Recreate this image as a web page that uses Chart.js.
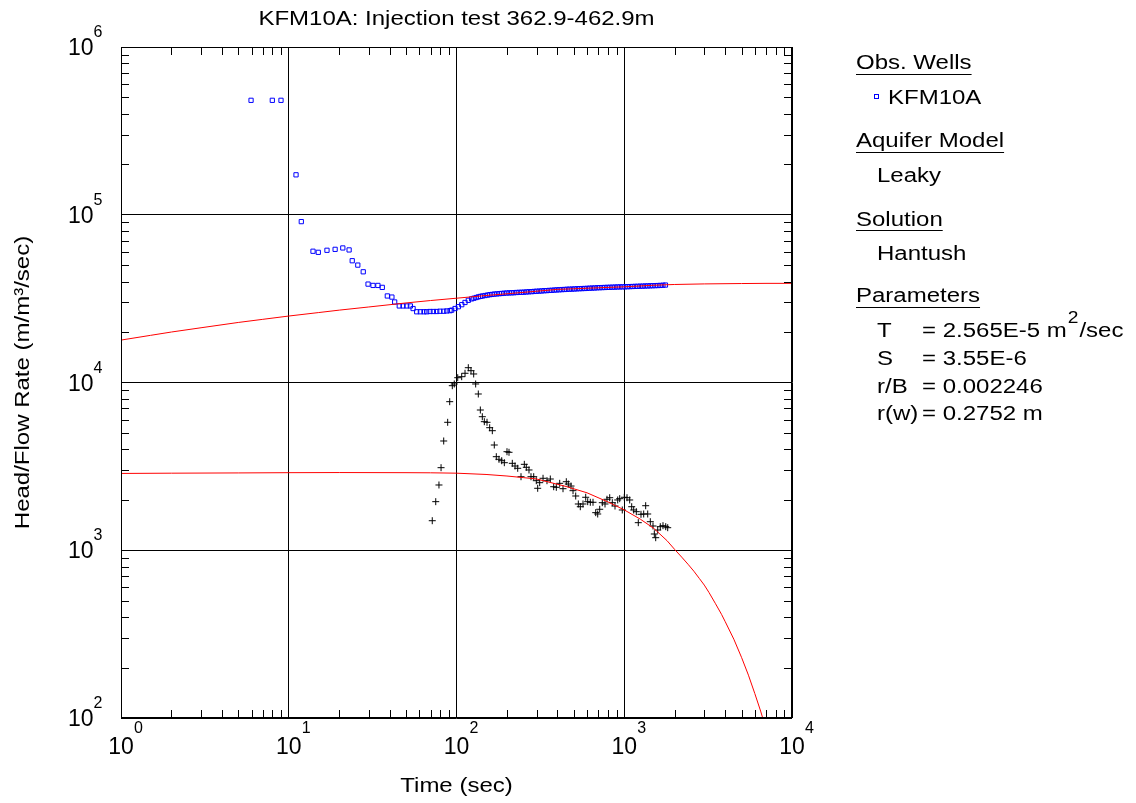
<!DOCTYPE html>
<html>
<head>
<meta charset="utf-8">
<title>KFM10A: Injection test 362.9-462.9m</title>
<script src="https://cdn.jsdelivr.net/npm/chart.js@4.4.1/dist/chart.umd.min.js"></script>
<style>
  html, body { margin: 0; padding: 0; background: #fff; }
  canvas { display: block; }
</style>
</head>
<body>
<canvas id="chart" width="1136" height="803"></canvas>
<script>
// observed head / flow rate, KFM10A (blue squares)
const obsTime = [5.96, 7.98, 8.99, 11.05, 11.88, 13.95, 15.0, 16.9, 18.9, 21.0, 22.9, 23.9, 25.8, 27.8, 29.7,
  31.8, 34.0, 36.1, 38.7, 41.2, 42.8, 45.6, 48.0, 50.5, 53.1, 55.1, 57.9, 60.9, 64.0, 66.4, 69.5, 72.8, 76.2,
  79.7, 83.9, 87.5, 91.5, 93.6, 98.0, 102.6, 107.5, 112.4, 117.6,
  123, 127, 131, 135, 139, 143, 148, 153, 158, 163, 168, 174, 180, 186, 192, 199, 206, 213, 220, 228, 236, 244,
  252, 261, 270, 280, 290, 300, 311, 322, 333, 345, 357, 370, 383, 396, 410, 425, 440, 455, 471, 488, 505, 523,
  541, 560, 580, 600, 621, 643, 666, 690, 714, 739, 765, 792, 820, 849, 879, 910, 942, 975, 1010, 1045, 1082,
  1120, 1160, 1200, 1243, 1287, 1332, 1379, 1428, 1478, 1530, 1584, 1640, 1700, 1760];
const obsHead = [481000, 481000, 481000, 173000, 91000, 60600, 59700, 61400, 62200, 63400, 61700, 53200, 50100,
  45700, 38600, 37900, 37900, 36900, 32800, 32300, 30200, 28600, 28600, 28600, 28600, 27600, 26400, 26400, 26400,
  26400, 26500, 26500, 26500, 26600, 26600, 26700, 26800, 27000, 27600, 28300, 29100, 30000, 30900,
  31500, 31800, 32100, 32400, 32600, 32800, 33000, 33200, 33400, 33500, 33650, 33750, 33850, 33950, 34050, 34150,
  34200, 34250, 34300, 34400, 34450, 34500, 34550, 34650, 34750, 34800, 34900, 35000, 35050, 35150, 35250, 35300,
  35400, 35450, 35550, 35650, 35700, 35800, 35850, 35950, 36000, 36050, 36100, 36200, 36250, 36300, 36350, 36400,
  36500, 36550, 36600, 36700, 36750, 36800, 36850, 36900, 36950, 37000, 37050, 37100, 37150, 37150, 37200, 37250,
  37300, 37350, 37400, 37450, 37500, 37550, 37600, 37650, 37700, 37750, 37800, 37850, 37900, 38000, 38100];

// derivative of the observed data (black crosses)
const derivTime = [71.7, 75.2, 78.6, 80.9, 83.9, 88.6, 91.1, 94.4, 97.0, 101.7, 107.4, 112.4, 117.6, 122.0, 126.6,
  130.1, 134.9, 138.7, 142.5, 146.5, 152.0, 157.7, 163.5, 168.0, 172.7, 179.2, 186.0, 192.8, 200.0, 205.6, 215.1,
  223.3, 231.7, 242.4, 253.7, 260.7, 270.5, 278.0, 288.6, 299.0, 304.8, 313.3, 328.0, 346.3, 362.4, 379.7, 393.5,
  412.3, 431.4, 451.4, 464.0, 481.5, 495.0, 513.6, 532.3, 547.1, 567.7, 589.2, 605.6, 627.6, 651.3, 675.9, 694.7,
  714.0, 739.9, 767.8, 789.1, 819.0, 848.8, 880.9, 914.1, 939.4, 973.5, 1000.7, 1038.5, 1077.7, 1107.7, 1138.4,
  1180, 1212.5, 1258.4, 1306, 1342, 1380, 1430, 1484, 1511, 1540, 1583, 1640, 1702, 1767, 1816];
const derivValue = [1500, 1948, 2449, 3106, 4480, 5790, 7685, 9570, 9800, 10680, 10830, 11350, 12250, 11760, 11240,
  9800, 8540, 6855, 6253, 5840, 5790, 5377, 5160, 4240, 3612, 3485, 3418, 3326, 3868, 3836, 3298, 3178, 3080, 2744,
  3253, 3123, 3010, 2744, 2744, 2598, 2341, 2528, 2685, 2598, 2659, 2392, 2372, 2506, 2328, 2562, 2482, 2415, 2265,
  2106, 1887, 1818, 1887, 2069, 1948, 1932, 1932, 1675, 1645, 1755, 1921, 1887, 2013, 2057, 1921, 1835, 1994, 2030,
  1738, 2069, 2057, 1994, 1818, 1738, 1698, 1460, 1638, 1645, 1843, 1645, 1480, 1395, 1250, 1188, 1320, 1382, 1401,
  1382, 1363];

// Hantush type curve (red)
const fitTime = [1, 1.5, 2, 3, 5, 7, 10, 15, 20, 30, 50, 70, 100, 150, 200, 300, 400, 500, 700, 1000, 1500, 2000,
  3000, 5000, 7000, 10000];
const fitHead = [17900, 19100, 20000, 21200, 22800, 23800, 24900, 26100, 27000, 28200, 29800, 30800, 31800, 33000,
  33800, 35000, 35900, 36200, 36700, 37200, 38000, 38400, 38700, 38900, 39000, 39000];

// Hantush derivative curve (red)
const fitDerivTime = [1, 2, 5, 10, 20, 50, 70, 100, 150, 200, 250, 300, 450, 600, 800, 1000, 1250, 1500, 1800, 2000,
  2200, 2400, 2600, 2800, 3000, 3200, 3500, 3800, 4000, 4500, 5000, 5500, 6000, 6500, 7000];
const fitDeriv = [2870, 2880, 2890, 2900, 2905, 2900, 2895, 2880, 2830, 2770, 2710, 2660, 2400, 2200, 1940, 1740,
  1530, 1350, 1140, 1010, 910, 825, 750, 680, 620, 560, 480, 415, 375, 295, 230, 180, 140, 110, 86];

const xDecades = [1, 10, 100, 1000, 10000];
const yDecades = [100, 1000, 10000, 100000, 1000000];

const FONT = 'Arial, "Liberation Sans", Helvetica, sans-serif';

function pairs(xs, ys) {
  return xs.map((v, i) => ({ x: v, y: ys[i] }));
}

function isDecade(v) {
  if (!v) return false;
  const l = Math.log10(v);
  return Math.abs(l - Math.round(l)) < 1e-9;
}

// draws text, stretched horizontally by sx; returns drawn width
function text(ctx, s, x, y, size, align, sx) {
  sx = sx || 1;
  ctx.save();
  ctx.font = "normal " + size + "px " + FONT;
  ctx.textBaseline = "alphabetic";
  ctx.textAlign = "left";
  const w = ctx.measureText(s).width * sx;
  let x0 = x;
  if (align === "center") x0 = x - w / 2;
  if (align === "right") x0 = x - w;
  ctx.translate(x0, y);
  ctx.scale(sx, 1);
  ctx.fillText(s, 0, 0);
  ctx.restore();
  return w;
}

function hline(ctx, x1, x2, y) {
  ctx.beginPath();
  ctx.moveTo(x1, Math.round(y) + 0.5);
  ctx.lineTo(x2, Math.round(y) + 0.5);
  ctx.stroke();
}

const overlay = {
  id: "overlay",
  afterDraw(chart) {
    const { ctx, chartArea: a } = chart;
    const xs = chart.scales.x, ys = chart.scales.y;
    ctx.save();
    ctx.strokeStyle = "#000";
    ctx.fillStyle = "#000";
    ctx.lineWidth = 1;

    // frame
    ctx.strokeRect(Math.round(a.left) + 0.5, Math.round(a.top) + 0.5,
      Math.round(a.right - a.left) - 1, Math.round(a.bottom - a.top) - 1);

    // minor ticks, pointing inward on all four sides
    ctx.beginPath();
    for (let k = 0; k < 4; k++) {
      for (let m = 2; m <= 9; m++) {
        const px = Math.round(xs.getPixelForValue(m * Math.pow(10, k))) + 0.5;
        ctx.moveTo(px, a.bottom); ctx.lineTo(px, a.bottom - 8);
        ctx.moveTo(px, a.top); ctx.lineTo(px, a.top + 8);
        const py = Math.round(ys.getPixelForValue(m * Math.pow(10, k + 2))) + 0.5;
        ctx.moveTo(a.left, py); ctx.lineTo(a.left + 8, py);
        ctx.moveTo(a.right, py); ctx.lineTo(a.right - 8, py);
      }
    }
    ctx.stroke();

    // tick labels 10^n
    xDecades.forEach(v => {
      const px = xs.getPixelForValue(v);
      text(ctx, "10", px, a.bottom + 36, 23, "center");
      text(ctx, String(Math.round(Math.log10(v))), px + 13, a.bottom + 15, 16, "left");
    });
    yDecades.forEach(v => {
      const py = ys.getPixelForValue(v);
      text(ctx, "10", 93.5, py + 8, 23, "right");
      text(ctx, String(Math.round(Math.log10(v))), 93.5, py - 10, 16, "left");
    });

    // titles
    const cx = (a.left + a.right) / 2;
    text(ctx, "KFM10A: Injection test 362.9-462.9m", cx, 25, 20, "center", 1.2);
    text(ctx, "Time (sec)", cx, 792, 20, "center", 1.2);
    ctx.save();
    ctx.translate(29, (a.top + a.bottom) / 2);
    ctx.rotate(-Math.PI / 2);
    text(ctx, "Head/Flow Rate (m/m\u00b3/sec)", 0, 0, 20, "center", 1.2);
    ctx.restore();

    // legend panel
    const lx = 856;
    let w = text(ctx, "Obs. Wells", lx, 69, 20, "left", 1.2);
    hline(ctx, lx, lx + w, 74);
    ctx.strokeStyle = "#0000ff";
    ctx.strokeRect(874.5, 94.5, 4, 4);
    ctx.strokeStyle = "#000";
    text(ctx, "KFM10A", 888, 104, 20, "left", 1.2);

    w = text(ctx, "Aquifer Model", lx, 147, 20, "left", 1.2);
    hline(ctx, lx, lx + w, 152);
    text(ctx, "Leaky", 877, 182, 20, "left", 1.2);

    w = text(ctx, "Solution", lx, 226, 20, "left", 1.2);
    hline(ctx, lx, lx + w, 230);
    text(ctx, "Hantush", 877, 260, 20, "left", 1.2);

    w = text(ctx, "Parameters", lx, 302, 20, "left", 1.2);
    hline(ctx, lx, lx + w, 307);

    const vx = 922;
    text(ctx, "T", 877, 337, 20, "left", 1.2);
    w = text(ctx, "= 2.565E-5 m", vx, 337, 20, "left", 1.2);
    const w2 = text(ctx, "2", vx + w + 1, 323, 16, "left", 1.2);
    text(ctx, "/sec", vx + w + w2 + 2, 337, 20, "left", 1.2);
    text(ctx, "S", 877, 365, 20, "left", 1.2);
    text(ctx, "= 3.55E-6", vx, 365, 20, "left", 1.2);
    text(ctx, "r/B", 877, 393, 20, "left", 1.2);
    text(ctx, "= 0.002246", vx, 393, 20, "left", 1.2);
    text(ctx, "r(w)", 877, 420, 20, "left", 1.2);
    text(ctx, "= 0.2752 m", vx, 420, 20, "left", 1.2);

    ctx.restore();
  }
};

const gridColor = (c) => (c.tick && isDecade(c.tick.value)) ? "#000" : "rgba(0,0,0,0)";

new Chart(document.getElementById("chart"), {
  type: "scatter",
  data: {
    datasets: [
      {
        label: "Hantush",
        data: pairs(fitTime, fitHead),
        showLine: true,
        borderColor: "#ff0000",
        borderWidth: 1,
        pointRadius: 0,
        order: 0
      },
      {
        label: "Hantush derivative",
        data: pairs(fitDerivTime, fitDeriv),
        showLine: true,
        borderColor: "#ff0000",
        borderWidth: 1,
        pointRadius: 0,
        order: 0
      },
      {
        label: "KFM10A",
        data: pairs(obsTime, obsHead),
        pointStyle: "rect",
        pointRadius: 3,
        borderColor: "#0000ff",
        backgroundColor: "rgba(0,0,0,0)",
        borderWidth: 1,
        order: 2
      },
      {
        label: "KFM10A derivative",
        data: pairs(derivTime, derivValue),
        pointStyle: "cross",
        pointRadius: 3.5,
        borderColor: "#000",
        borderWidth: 1,
        order: 1
      }
    ]
  },
  options: {
    responsive: false,
    animation: false,
    events: [],
    layout: { padding: { top: 47, right: 344, left: 0, bottom: 0 } },
    plugins: {
      legend: { display: false },
      title: { display: false },
      tooltip: { enabled: false }
    },
    scales: {
      x: {
        type: "logarithmic",
        min: 1,
        max: 10000,
        ticks: { display: false },
        border: { display: false },
        grid: { color: gridColor, drawTicks: false, lineWidth: 1 },
        afterFit(scale) { scale.height = 85; }
      },
      y: {
        type: "logarithmic",
        min: 100,
        max: 1000000,
        ticks: { display: false },
        border: { display: false },
        grid: { color: gridColor, drawTicks: false, lineWidth: 1 },
        afterFit(scale) { scale.width = 121; }
      }
    }
  },
  plugins: [overlay]
});
</script>
</body>
</html>
